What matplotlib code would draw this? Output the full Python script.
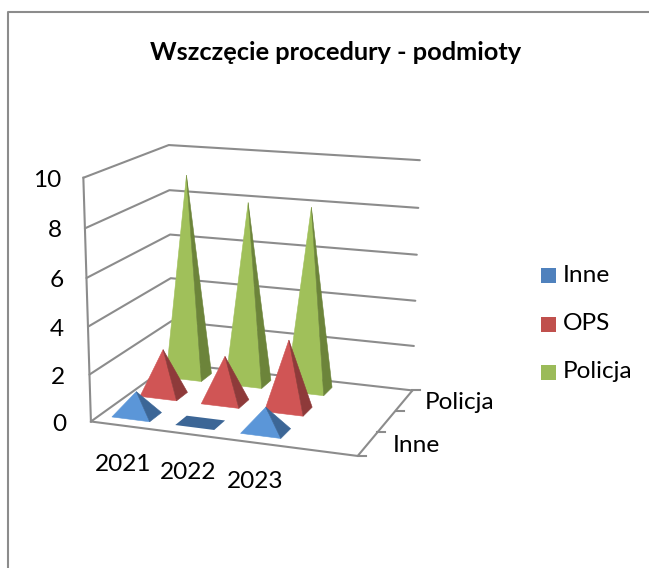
import matplotlib
matplotlib.use("Agg")
import matplotlib.pyplot as plt
import numpy as np
from matplotlib.patches import Polygon, Rectangle

plt.rcParams["font.family"] = ["Lato", "DejaVu Sans"]

title = "Wszczęcie procedury - podmioty"
categories = ["2021", "2022", "2023"]
series_names = ["Inne", "OPS", "Policja"]
inne = [1, 0, 1]
ops = [2, 2, 3]
policja = [9, 8, 8]
value_ticks = [0, 2, 4, 6, 8, 10]
depth_labels = {"Inne": (0, 25), "Policja": (2, 21)}

# the source chart keeps an empty fourth category slot on the right
n_slots = 4
value_max = 10
width_ratio = 0.60
depth_ratio = 0.43
label_size = 17.6

blue = ("#5B96D8", "#3C6696", "#4F81BD")
red = ("#D05555", "#8E3A3A", "#C0504D")
green = ("#A0C05A", "#6C843A", "#9BBB59")
series_colors = [blue, red, green]
axis_gray = "#8C8C8C"

# box corners in pixels: (along categories, along depth, up) -> (x, y)
box_corners = [
    ((0, 0, 0), (90, 421.7)),
    ((1, 0, 0), (358, 455.5)),
    ((0, 1, 0), (173, 363)),
    ((1, 1, 0), (412, 391)),
    ((0, 0, 1), (84, 178)),
    ((0, 1, 1), (168, 145)),
    ((1, 1, 1), (420, 160)),
]

# fit the perspective camera of the 3D box
rows, rhs = [], []
for (a, b, c), (px, py) in box_corners:
    rows.append([a, b, c, 1, 0, 0, 0, 0, -px * a, -px * b, -px * c])
    rows.append([0, 0, 0, 0, a, b, c, 1, -py * a, -py * b, -py * c])
    rhs += [px, py]
cam = np.linalg.lstsq(np.array(rows, float), np.array(rhs, float), rcond=None)[0]
cam = np.append(cam, 1.0).reshape(3, 4)


def proj(u, v, w):
    x, y, z = cam @ np.array([u, v, w, 1.0])
    return x / z, y / z


def proj_val(u, v, value):
    return proj(u, v, value / value_max)


fig = plt.figure(figsize=(6.49, 5.68), dpi=100)
ax = fig.add_axes([0, 0, 1, 1])
ax.set_xlim(0, 649)
ax.set_ylim(568, 0)
ax.axis("off")

# outer chart frame, cut off by the screenshot on the right and bottom
ax.plot([8, 8, 649], [568, 12, 12], color=axis_gray, lw=1.5)

ax.text(335.5, 53, title, ha="center", va="center", fontsize=18.3, fontweight="bold", color="black")

# walls
for t in value_ticks:
    pts = [proj_val(0, 0, t), proj_val(0, 1, t), proj_val(1, 1, t)]
    ax.plot(*zip(*pts), color=axis_gray, lw=1.5, solid_capstyle="round")
    x, y = proj_val(0, 0, t)
    ax.text(x - 25 + t * 0.3, y + 2.5, str(t), ha="right", va="center", fontsize=label_size, color="black")
ax.plot(*zip(proj_val(0, 0, 0), proj_val(0, 0, value_max)), color=axis_gray, lw=1.5)

# floor and depth axis with its ticks
ax.plot(*zip(proj(0, 0, 0), proj(1, 0, 0), proj(1, 1, 0)), color=axis_gray, lw=1.5)
n_series = len(series_names)
for j in range(n_series + 1):
    x, y = proj(1, j / n_series, 0)
    ax.plot([x, x + 8], [y, y], color=axis_gray, lw=1.5)
for name, (j, offset) in depth_labels.items():
    x, y = proj(1, (j + 0.5) / n_series, 0)
    ax.text(x + offset, y + 2, name, ha="left", va="center", fontsize=label_size, color="black")

# category labels follow the front edge
for i, cat in enumerate(categories):
    x, y = proj((i + 0.5) / n_slots, 0, 0)
    ax.text(x + 0.5 + 0.25 * i, y + 39, cat, ha="center", va="center", fontsize=label_size, color="black")

# pyramids, back row first
all_values = [inne, ops, policja]
for j in reversed(range(n_series)):
    front_col, side_col, _ = series_colors[j]
    for i, val in enumerate(all_values[j]):
        uc = (i + 0.5) / n_slots
        vc = (j + 0.5) / n_series
        du = width_ratio / n_slots / 2
        dv = depth_ratio / n_series / 2
        fl = proj(uc - du, vc - dv, 0)
        fr = proj(uc + du, vc - dv, 0)
        br = proj(uc + du, vc + dv, 0)
        bl = proj(uc - du, vc + dv, 0)
        if val == 0:
            ax.add_patch(Polygon([fl, fr, br, bl], closed=True, facecolor=side_col, edgecolor="none", zorder=5))
            continue
        tip = proj_val(uc, vc, val)
        ax.add_patch(Polygon([fl, fr, tip], closed=True, facecolor=front_col, edgecolor=front_col, lw=0.4, zorder=5))
        ax.add_patch(Polygon([fr, br, tip], closed=True, facecolor=side_col, edgecolor=side_col, lw=0.4, zorder=5))

# legend
legend_y = [275, 324, 372]
for name, (_, _, key_col), y in zip(series_names, series_colors, legend_y):
    ax.add_patch(Rectangle((541, y - 7.5), 15, 15, facecolor=key_col, edgecolor="none"))
    ax.text(563, y, name, ha="left", va="center", fontsize=label_size, color="black")

fig.savefig("out.png", dpi=100)
